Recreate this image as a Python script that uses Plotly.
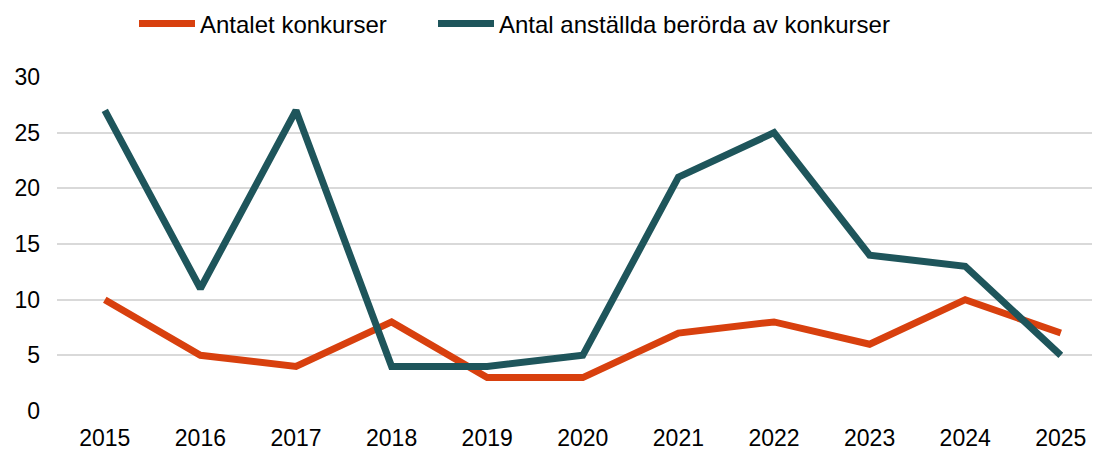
import plotly.graph_objects as go

ar = ["2015", "2016", "2017", "2018", "2019", "2020", "2021", "2022", "2023", "2024", "2025"]
antalet_konkurser = [10, 5, 4, 8, 3, 3, 7, 8, 6, 10, 7]
anstallda_berorda = [27, 11, 27, 4, 4, 5, 21, 25, 14, 13, 5]

ORANGE = "#D8400E"
TEAL = "#1E555B"

fig = go.Figure()
fig.add_trace(go.Scatter(
    x=ar, y=antalet_konkurser, name="Antalet konkurser", mode="lines",
    line=dict(color=ORANGE, width=7), legend="legend",
))
fig.add_trace(go.Scatter(
    x=ar, y=anstallda_berorda, name="Antal anställda berörda av konkurser", mode="lines",
    line=dict(color=TEAL, width=7), legend="legend2",
))

# page has an 8px body margin, so the figure is drawn slightly smaller
_legend_common = dict(
    orientation="h", xref="container", yref="container",
    y=0.964, xanchor="left", yanchor="middle", itemwidth=56,
    font=dict(size=24), bgcolor="rgba(0,0,0,0)",
)

fig.update_layout(
    width=1092,
    height=442,
    showlegend=True,
    margin=dict(l=49, r=0, t=69, b=39, autoexpand=False),
    paper_bgcolor="white",
    plot_bgcolor="white",
    font=dict(family="Liberation Sans, Arial, sans-serif", size=23, color="#000000"),
    legend=dict(x=126 / 1092, **_legend_common),
    legend2=dict(x=425 / 1092, **_legend_common),
    xaxis=dict(
        type="category", range=[-0.5, 10.41], showgrid=False, automargin=False,
        showline=False, ticks="", tickfont=dict(size=23), ticklabelstandoff=11,
    ),
    yaxis=dict(
        range=[0, 30], dtick=5, showgrid=True, gridcolor="#D9D9D9", gridwidth=2,
        zeroline=False, showline=False, ticks="", ticklabelstandoff=16,
        automargin=False, tickfont=dict(size=23),
    ),
)

fig.write_html("out.html")
